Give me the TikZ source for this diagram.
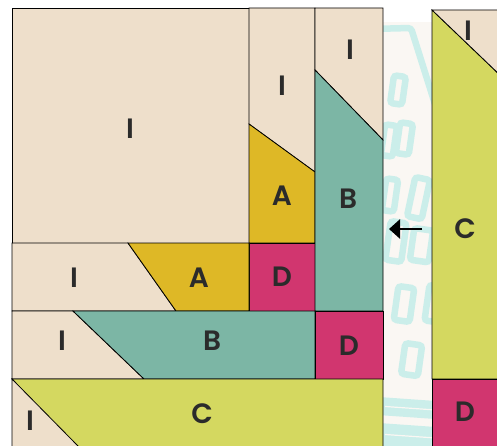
\documentclass[tikz,border=0pt]{standalone}
\usepackage{fontspec}
\setmainfont{Poppins}[BoldFont={Poppins SemiBold}]
\usetikzlibrary{arrows.meta}
\definecolor{pI}{HTML}{EEDFCB}
\definecolor{pA}{HTML}{DEB826}
\definecolor{pD}{HTML}{D1366F}
\definecolor{pB}{HTML}{7CB6A5}
\definecolor{pC}{HTML}{D4D860}
\definecolor{bgs}{HTML}{FAF7F3}
\definecolor{tpale}{HTML}{CBEEEA}
\definecolor{txt}{HTML}{2B2B2B}
\tikzset{
  piece/.style={draw=black, line width=0.8pt, line join=miter},
  lab/.style={text=txt, font=\fontsize{28}{28}\selectfont\bfseries, inner sep=0pt, anchor=center},
  deco/.style={draw=tpale, line width=6.5pt, rounded corners=3pt},
}
\begin{document}
\begin{tikzpicture}[x=1pt,y=-1pt]
\useasboundingbox (0,0) rectangle (497,446);
\clip (0,0) rectangle (497,446);
\fill[white] (0,0) rectangle (497,446);
% decorative background strip
\begin{scope}
\clip (383,0) rectangle (432,450);
\fill[bgs] (383,22) rectangle (432,450);
\draw[deco] (370,29) -- (411,28) -- (440,120) -- (450,250);
\draw[deco, rotate around={-8:(398,90)}] (392,76) rectangle (404,104);
\draw[deco, rotate around={-8:(389,140)}] (383,125) rectangle (395,156);
\draw[deco, rotate around={-8:(404,138)}] (398,123) rectangle (411,154);
\draw[deco, rotate around={-8:(390,195)}] (384,179) rectangle (396,211);
\draw[deco, rotate around={-12:(418,198)}] (411,178) rectangle (426,218);
\draw[deco, rotate around={-8:(396,241)}] (388,222) rectangle (404,261);
\draw[deco, rotate around={-8:(420,245)}] (412,229) rectangle (431,261);
\draw[deco, rotate around={-8:(404,304)}] (396,287) rectangle (412,321);
\draw[deco, rotate around={-8:(430,303)}] (427,285) rectangle (441,321);
\draw[deco, rotate around={-8:(411,360)}] (403,344) rectangle (420,375);
\fill[tpale, rotate around={-4:(407,407)}] (380,399) rectangle (440,417);
\draw[bgs, line width=1.2pt, rotate around={-4:(407,407)}] (385,408) -- (440,408);
\fill[tpale, rotate around={-4:(407,434)}] (380,425) rectangle (440,450);
\draw[bgs, line width=1.2pt, rotate around={-4:(407,434)}] (385,436) -- (440,436);
\end{scope}
% big square
\draw[piece, fill=pI] (12,8) rectangle (249,243);
% column A
\draw[piece, fill=pI] (249,8) -- (315,8) -- (315,172) -- (249,124) -- cycle;
\draw[piece, fill=pA] (249,124) -- (315,172) -- (315,243) -- (249,243) -- cycle;
\draw[piece, fill=pD] (249,243) rectangle (315,311);
% column B
\draw[piece, fill=pI] (315,8) -- (383,8) -- (383,140) -- (315,70) -- cycle;
\draw[piece, fill=pB] (315,70) -- (383,140) -- (383,311) -- (315,311) -- cycle;
% row A
\draw[piece, fill=pI] (12,243) -- (128,243) -- (176,311) -- (12,311) -- cycle;
\draw[piece, fill=pA] (128,243) -- (249,243) -- (249,311) -- (176,311) -- cycle;
% row B
\draw[piece, fill=pI] (12,311) -- (73,311) -- (144,379) -- (12,379) -- cycle;
\draw[piece, fill=pB] (73,311) -- (315,311) -- (315,379) -- (144,379) -- cycle;
\draw[piece, fill=pD] (315,311) rectangle (383,379);
% row C
\draw[piece, fill=pC] (12,379) -- (383,379) -- (383,452) -- (78,452) -- cycle;
\draw[piece, fill=pI] (12,379) -- (78,446) -- (84,452) -- (12,452) -- cycle;
% right strip
\draw[piece, fill=pC] (432,10) -- (502,77) -- (502,379) -- (432,379) -- cycle;
\draw[piece, fill=pI] (432,10) -- (502,10) -- (502,77) -- cycle;
\draw[piece, fill=pD] (432,379) rectangle (502,452);
% labels
\node[lab] (i1) at (130,129) {I};
\node[lab] (i2) at (282,86) {I};
\node[lab] (a1) at (282,196) {A};
\node[lab] (d1) at (282,277) {D};
\node[lab] (i3) at (350,50) {I};
\node[lab] (b1) at (348,199) {B};
\node[lab] (i4) at (74,278) {I};
\node[lab] (a2) at (199,278) {A};
\node[lab] (i5) at (62,341) {I};
\node[lab] (b2) at (212,341) {B};
\node[lab] (d2) at (349,346) {D};
\node[lab] (i6) at (30,421) {I};
\node[lab] (c1) at (202,414) {C};
\node[lab] (i7) at (468,31) {I};
\node[lab] (c2) at (465,229) {C};
\node[lab] (d3) at (465,412) {D};
% arrow
\coordinate (arS) at (422,229);
\coordinate (arE) at (389,229);
\draw[line width=2.6pt, -{Triangle[length=11pt,width=19pt]}] (arS) -- (arE);
\end{tikzpicture}
\end{document}
